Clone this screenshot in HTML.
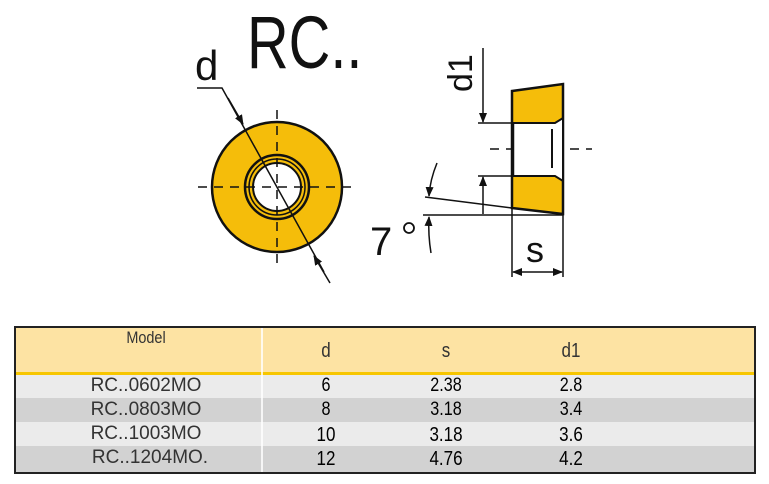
<!DOCTYPE html>
<html><head><style>
body{margin:0;background:#fff;width:769px;height:484px;overflow:hidden;position:relative;font-family:"Liberation Sans",sans-serif}
.t{position:absolute;left:14px;top:326px;width:742px;height:148px;border:2px solid #222;box-sizing:border-box;background:#fff}
.r{position:absolute;left:0;width:738px;color:#333}
.c{position:absolute;text-align:center;transform:scaleX(0.85)}
.m{position:absolute;text-align:center;color:#333}
</style></head><body>
<svg width="769" height="320" style="position:absolute;left:0;top:0" font-family="Liberation Sans, sans-serif">
<defs><marker id="a" markerWidth="10" markerHeight="8" refX="9" refY="4" orient="auto" markerUnits="userSpaceOnUse"><path d="M0,0L10,4L0,8z" fill="#111"/></marker></defs>
<text x="247" y="68" font-size="74" transform="translate(247 0) scale(0.78 1) translate(-247 0)" fill="#111">RC..</text>
<text x="195" y="80" font-size="42" fill="#111">d</text>
<circle cx="277" cy="187" r="65" fill="#f5bd0a" stroke="#111" stroke-width="2.5"/>
<circle cx="277" cy="187" r="32" fill="#f5bd0a" stroke="#111" stroke-width="2.5"/>
<circle cx="277" cy="187" r="28" fill="none" stroke="#111" stroke-width="1.5"/>
<circle cx="277" cy="187" r="24" fill="#fff" stroke="#111" stroke-width="2"/>
<g stroke="#111" stroke-width="1.5" stroke-dasharray="9,7" fill="none">
<line x1="198" y1="187" x2="355" y2="187"/><line x1="277" y1="110" x2="277" y2="268"/>
<line x1="490" y1="149" x2="592" y2="149"/>
</g>
<polyline points="197,88 222,88 324,272" fill="none" stroke="#111" stroke-width="1.5"/>
<line x1="228" y1="98" x2="243" y2="124" stroke="#111" stroke-width="1.5" marker-end="url(#a)"/>
<line x1="330" y1="283" x2="314" y2="256" stroke="#111" stroke-width="1.5" marker-end="url(#a)"/>
<path d="M512,91 L563,84 L563,214 L512,208 Z" fill="#f5bd0a" stroke="#111" stroke-width="2.5"/>
<path d="M512,123 L555,123 L563,118 L563,181 L555,176 L512,176 Z" fill="#fff" stroke="#111" stroke-width="2"/>
<line x1="552" y1="129" x2="552" y2="168" stroke="#111" stroke-width="2"/>
<line x1="513" y1="123" x2="513" y2="176" stroke="#111" stroke-width="2.5"/>
<g stroke="#111" stroke-width="1.5" fill="none">
<line x1="478" y1="123" x2="512" y2="123"/><line x1="478" y1="176" x2="512" y2="176"/>
<line x1="483" y1="48" x2="483" y2="122" marker-end="url(#a)"/>
<line x1="483" y1="214" x2="483" y2="177" marker-end="url(#a)"/>
<line x1="423" y1="215" x2="563" y2="215"/>
<line x1="425" y1="197" x2="512" y2="208"/>
<line x1="512" y1="208" x2="512" y2="277"/><line x1="563" y1="214" x2="563" y2="277"/>
<line x1="537" y1="272" x2="513" y2="272" marker-end="url(#a)"/>
<line x1="537" y1="272" x2="562" y2="272" marker-end="url(#a)"/>
<path d="M437,163 Q430,180 429,196" marker-end="url(#a)"/>
<path d="M431,253 Q428,235 429,217" marker-end="url(#a)"/>
</g>
<text x="0" y="0" font-size="34" fill="#111" transform="translate(472 92) rotate(-90)">d1</text>
<text x="370" y="255" font-size="40" fill="#111">7</text>
<circle cx="409" cy="228" r="5" fill="none" stroke="#111" stroke-width="1.8"/>
<text x="526" y="262" font-size="36" fill="#111">s</text>
</svg>
<div class="t">
<div class="r" style="top:0;height:44px;background:#fde3a3"></div>
<div class="r" style="top:44px;height:3px;background:#f7c600"></div>
<div class="r" style="top:47px;height:23px;background:#ebebeb"></div>
<div class="r" style="top:70px;height:24px;background:#d2d2d2"></div>
<div class="r" style="top:94px;height:24px;background:#ebebeb"></div>
<div class="r" style="top:118px;height:26px;background:#d2d2d2"></div>
<div style="position:absolute;left:245px;top:0;width:2px;height:144px;background:#fff;opacity:.8"></div>
<div class="c" style="left:70px;width:120px;top:0;font-size:17px;color:#333">Model</div>
<div class="c" style="left:280px;width:60px;top:12px;font-size:20px;color:#333">d</div>
<div class="c" style="left:400px;width:60px;top:12px;font-size:20px;color:#333">s</div>
<div class="c" style="left:525px;width:60px;top:12px;font-size:20px;color:#333">d1</div>
<div class="m" style="left:40px;width:180px;top:47px;font-size:19px">RC..0602MO</div>
<div class="c" style="left:280px;width:60px;top:47px;font-size:19px">6</div>
<div class="c" style="left:400px;width:60px;top:47px;font-size:19px">2.38</div>
<div class="c" style="left:525px;width:60px;top:47px;font-size:19px">2.8</div>
<div class="m" style="left:40px;width:180px;top:71px;font-size:19px">RC..0803MO</div>
<div class="c" style="left:280px;width:60px;top:71px;font-size:19px">8</div>
<div class="c" style="left:400px;width:60px;top:71px;font-size:19px">3.18</div>
<div class="c" style="left:525px;width:60px;top:71px;font-size:19px">3.4</div>
<div class="m" style="left:40px;width:180px;top:95px;font-size:19px">RC..1003MO</div>
<div class="c" style="left:280px;width:60px;top:96px;font-size:20px">10</div>
<div class="c" style="left:400px;width:60px;top:96px;font-size:20px">3.18</div>
<div class="c" style="left:525px;width:60px;top:96px;font-size:20px">3.6</div>
<div class="m" style="left:44px;width:180px;top:119px;font-size:19px">RC..1204MO.</div>
<div class="c" style="left:280px;width:60px;top:120px;font-size:20px">12</div>
<div class="c" style="left:400px;width:60px;top:120px;font-size:20px">4.76</div>
<div class="c" style="left:525px;width:60px;top:120px;font-size:20px">4.2</div>
</div>
</body></html>
